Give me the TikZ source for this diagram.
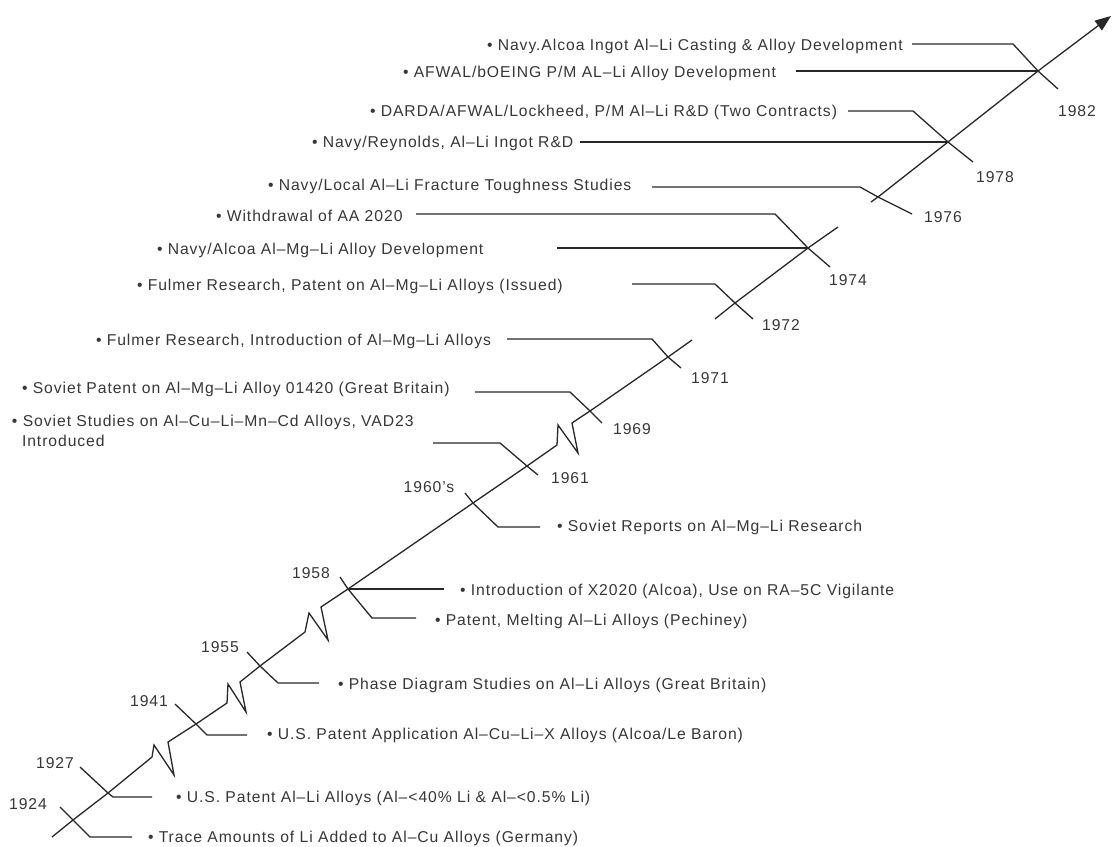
\documentclass[tikz,border=0pt]{standalone}
\usepackage{fontspec}
\setmainfont{Liberation Sans}[LetterSpace=6]
\usetikzlibrary{arrows.meta}
\definecolor{ink}{RGB}{40,40,40}
\definecolor{txt}{RGB}{55,55,55}
\newcommand\lblfont{\fontsize{15.7}{20}\selectfont}
\tikzset{
  tl/.style={draw=ink, line width=1.3pt, line join=miter, line cap=butt},
  lbl/.style={anchor=base west, inner sep=0pt, outer sep=0pt, font=\lblfont, text=txt},
  yr/.style={inner sep=0pt, outer sep=0pt, font=\lblfont, text=txt},
}
\begin{document}
\begin{tikzpicture}[x=1pt,y=-1pt]
\useasboundingbox (0,0) rectangle (1113,846);
\fill[white] (0,0) rectangle (1113,846);

% ---- main line points
\coordinate (s1) at (52,837);
\coordinate (x1924) at (73,820);
\coordinate (x1927) at (108,793);
\coordinate (z1a) at (152,757);
\coordinate (z1b) at (154,745);
\coordinate (z1c) at (174,775);
\coordinate (z1d) at (168,742);
\coordinate (x1941) at (196,724);
\coordinate (z2a) at (227,703);
\coordinate (z2b) at (228,684);
\coordinate (z2c) at (246,712);
\coordinate (z2d) at (240,682);
\coordinate (x1955) at (260,666);
\coordinate (z3a) at (305,632);
\coordinate (z3b) at (309,613);
\coordinate (z3c) at (328,640);
\coordinate (z3d) at (321,607);
\coordinate (x1958) at (348,589);
\coordinate (x1960s) at (473,503);
\coordinate (x1961) at (527,466);
\coordinate (z4a) at (557,445);
\coordinate (z4b) at (558,425);
\coordinate (z4c) at (578,453);
\coordinate (z4d) at (572,423);
\coordinate (x1969) at (590,411);
\coordinate (x1971) at (668,357);
\coordinate (e5) at (692,340);
\coordinate (s6) at (715,319);
\coordinate (x1972) at (735,303);
\coordinate (x1974) at (808,248);
\coordinate (e6) at (838,227);
\coordinate (s7) at (871,202);
\coordinate (x1976) at (878,197);
\coordinate (x1978) at (948,142);
\coordinate (x1982) at (1038,71);
\coordinate (tip) at (1111,16);

\draw[tl] (s1) -- (x1924) -- (x1927) -- (z1a) -- (z1b) -- (z1c) -- (z1d) -- (x1941)
  -- (z2a) -- (z2b) -- (z2c) -- (z2d) -- (x1955) -- (z3a) -- (z3b) -- (z3c) -- (z3d)
  -- (x1958) -- (x1960s) -- (x1961) -- (z4a) -- (z4b) -- (z4c) -- (z4d) -- (x1969)
  -- (x1971) -- (e5);
\draw[tl] (s6) -- (x1972) -- (x1974) -- (e6);
\draw[tl, -{Triangle[length=16pt,width=12pt]}] (s7) -- (x1976) -- (x1978) -- (x1982) -- (tip);

% ---- labels right of the line
\node[lbl] (tr) at (148,842) {• Trace Amounts of Li Added to Al–Cu Alloys (Germany)};
\node[lbl] (usp) at (176,802) {• U.S. Patent Al–Li Alloys (Al–<40\% Li \& Al–<0.5\% Li)};
\node[lbl] (uspa) at (267,739) {• U.S. Patent Application Al–Cu–Li–X Alloys (Alcoa/Le Baron)};
\node[lbl] (phd) at (338,689) {• Phase Diagram Studies on Al–Li Alloys (Great Britain)};
\node[lbl] (pme) at (435,625) {• Patent, Melting Al–Li Alloys (Pechiney)};
\node[lbl] (x20) at (460,595) {• Introduction of X2020 (Alcoa), Use on RA–5C Vigilante};
\node[lbl] (srep) at (557,531) {• Soviet Reports on Al–Mg–Li Research};

% ---- labels left of the line
\node[lbl, align=left] (sst) at (12,446) {• Soviet Studies on Al–Cu–Li–Mn–Cd Alloys, VAD23\\\hspace*{10pt}Introduced};
\node[lbl] (spat) at (22,393) {• Soviet Patent on Al–Mg–Li Alloy 01420 (Great Britain)};
\node[lbl] (fri) at (96,345) {• Fulmer Research, Introduction of Al–Mg–Li Alloys};
\node[lbl] (frp) at (137,290) {• Fulmer Research, Patent on Al–Mg–Li Alloys (Issued)};
\node[lbl] (nal) at (157,254) {• Navy/Alcoa Al–Mg–Li Alloy Development};
\node[lbl] (wd) at (216,221) {• Withdrawal of AA 2020};
\node[lbl] (nlo) at (268,190) {• Navy/Local Al–Li Fracture Toughness Studies};
\node[lbl] (nre) at (312,147) {• Navy/Reynolds, Al–Li Ingot R\&D};
\node[lbl] (dar) at (370,116) {• DARDA/AFWAL/Lockheed, P/M Al–Li R\&D (Two Contracts)};
\node[lbl] (afw) at (403,77) {• AFWAL/bOEING P/M AL–Li Alloy Development};
\node[lbl] (nac) at (487,50) {• Navy.Alcoa Ingot Al–Li Casting \& Alloy Development};

% ---- year labels
\node[yr] (y1924) at (28,804) {1924};
\node[yr] (y1927) at (55,763) {1927};
\node[yr] (y1941) at (149,701) {1941};
\node[yr] (y1955) at (220,647) {1955};
\node[yr] (y1958) at (311,573) {1958};
\node[yr] (y1960s) at (429,487) {1960’s};
\node[yr] (y1961) at (570,478) {1961};
\node[yr] (y1969) at (632,429) {1969};
\node[yr] (y1971) at (710,378) {1971};
\node[yr] (y1972) at (781,325) {1972};
\node[yr] (y1974) at (848,280) {1974};
\node[yr] (y1976) at (943,217) {1976};
\node[yr] (y1978) at (995,177) {1978};
\node[yr] (y1982) at (1077,111) {1982};

% ---- ticks with labels to the right
\coordinate (u1924) at (60,807);  \coordinate (b1924) at (90,837);  \coordinate (r1924) at (132,837);
\draw[tl] (u1924) -- (x1924) -- (b1924) -- (r1924);
\coordinate (u1927) at (80,767);  \coordinate (b1927) at (113,797); \coordinate (r1927) at (152,797);
\draw[tl] (u1927) -- (x1927) -- (b1927) -- (r1927);
\coordinate (u1941) at (175,704); \coordinate (b1941) at (207,735); \coordinate (r1941) at (247,735);
\draw[tl] (u1941) -- (x1941) -- (b1941) -- (r1941);
\coordinate (u1955) at (247,652); \coordinate (b1955) at (278,683); \coordinate (r1955) at (319,683);
\draw[tl] (u1955) -- (x1955) -- (b1955) -- (r1955);
\coordinate (u1958) at (340,577); \coordinate (b1958) at (372,618); \coordinate (r1958) at (416,618);
\draw[tl] (u1958) -- (x1958) -- (b1958) -- (r1958);
\coordinate (i1958) at (444,589);
\draw[tl] (x1958) -- (i1958);
\coordinate (u1960s) at (465,493); \coordinate (b1960s) at (498,527); \coordinate (r1960s) at (540,527);
\draw[tl] (u1960s) -- (x1960s) -- (b1960s) -- (r1960s);

% ---- leaders from labels on the left
\coordinate (l1961) at (433,443); \coordinate (b1961) at (500,443); \coordinate (t1961) at (538,475);
\draw[tl] (l1961) -- (b1961) -- (x1961) -- (t1961);
\coordinate (l1969) at (475,392); \coordinate (b1969) at (570,392); \coordinate (t1969) at (602,423);
\draw[tl] (l1969) -- (b1969) -- (x1969) -- (t1969);
\coordinate (l1971) at (507,339); \coordinate (b1971) at (652,339); \coordinate (t1971) at (681,368);
\draw[tl] (l1971) -- (b1971) -- (x1971) -- (t1971);
\coordinate (l1972) at (632,284); \coordinate (b1972) at (715,284); \coordinate (t1972) at (753,319);
\draw[tl] (l1972) -- (b1972) -- (x1972) -- (t1972);
\coordinate (l1974) at (416,214); \coordinate (b1974) at (775,214); \coordinate (t1974) at (830,267);
\draw[tl] (l1974) -- (b1974) -- (x1974) -- (t1974);
\coordinate (m1974) at (557,248);
\draw[tl] (m1974) -- (x1974);
\coordinate (l1976) at (652,187); \coordinate (b1976) at (860,187); \coordinate (t1976) at (912,214);
\draw[tl] (l1976) -- (b1976) -- (x1976) -- (t1976);
\coordinate (l1978) at (848,111); \coordinate (b1978) at (913,111); \coordinate (t1978) at (973,162);
\draw[tl] (l1978) -- (b1978) -- (x1978) -- (t1978);
\coordinate (m1978) at (580,142);
\draw[tl] (m1978) -- (x1978);
\coordinate (l1982) at (912,44); \coordinate (b1982) at (1013,44); \coordinate (t1982) at (1058,89);
\draw[tl] (l1982) -- (b1982) -- (x1982) -- (t1982);
\coordinate (m1982) at (796,71);
\draw[tl] (m1982) -- (x1982);
\end{tikzpicture}
\end{document}
